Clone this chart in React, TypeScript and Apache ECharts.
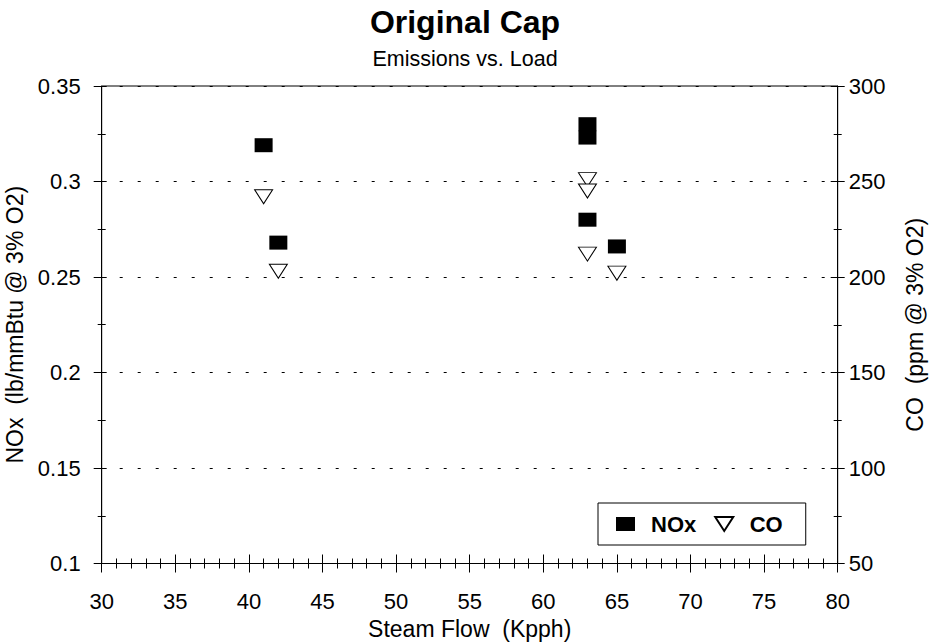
import React, { useEffect, useRef } from "react";
import * as echarts from "echarts";

const steamFlowNOx = [41, 42, 63, 63, 63, 65];
const noxValues = [0.319, 0.268, 0.33, 0.323, 0.28, 0.266];
const steamFlowCO = [41, 42, 63, 63, 63, 65];
const coValues = [242, 203, 251, 245, 212, 202];

const FONT = "'Liberation Sans', Arial, Helvetica, sans-serif";
const DOWN_TRIANGLE = "path://M0,0L18,0L9,14Z";

export default function App() {
  const ref = useRef<HTMLDivElement>(null);
  useEffect(() => {
    if (!ref.current) return;
    const chart = echarts.init(ref.current, null, { renderer: "svg" });
    const axisLine = { show: true, lineStyle: { color: "#000", width: 1 } };
    const labelStyle = { color: "#000", fontSize: 22, fontFamily: FONT };
    const nameStyle = { color: "#000", fontSize: 23, fontFamily: FONT };
    const option: any = {
      animation: false,
      backgroundColor: "#fff",
      title: [
        {
          text: "Original Cap",
          left: "center",
          top: 1,
          textStyle: { color: "#000", fontSize: 32, fontWeight: "bold", fontFamily: FONT },
        },
        {
          text: "Emissions vs. Load",
          left: "center",
          top: 43,
          textStyle: { color: "#000", fontSize: 21.5, fontWeight: "normal", fontFamily: FONT },
        },
      ],
      grid: {
        left: 101.7,
        right: 92.3,
        top: 86,
        bottom: 80.5,
        containLabel: false,
        outerBoundsMode: "none",
        show: true,
        borderColor: "#000",
        borderWidth: 1,
        backgroundColor: "transparent",
      },
      legend: {
        left: 598,
        top: 503,
        orient: "horizontal",
        data: [
          { name: "NOx", icon: "rect" },
          { name: "CO", icon: DOWN_TRIANGLE },
        ],
        itemWidth: 19,
        itemHeight: 14,
        itemGap: 18,
        padding: [10, 23, 10, 18],
        borderColor: "#000",
        borderWidth: 1,
        textStyle: { color: "#000", fontSize: 22, fontWeight: "bold", fontFamily: FONT, padding: [0, 0, 0, 11] },
      },
      xAxis: [
        {
          type: "value",
          position: "bottom",
          min: 30,
          max: 80,
          interval: 5,
          name: "Steam Flow  (Kpph)",
          nameLocation: "middle",
          nameGap: 46,
          nameTextStyle: nameStyle,
          axisLine,
          axisTick: { show: true, length: 9, lineStyle: { color: "#000" } },
          minorTick: { show: true, splitNumber: 5, length: 5, lineStyle: { color: "#000" } },
          axisLabel: { ...labelStyle, margin: 27 },
          splitLine: { show: false },
        },
        {
          type: "value",
          position: "bottom",
          min: 30,
          max: 80,
          interval: 5,
          axisLine: { show: false },
          axisTick: { show: true, inside: true, length: 9, lineStyle: { color: "#000" } },
          minorTick: { show: true, splitNumber: 5, length: 5, lineStyle: { color: "#000" } },
          axisLabel: { show: false },
          splitLine: { show: false },
        },
      ],
      yAxis: [
        {
          type: "value",
          position: "left",
          min: 0.1,
          max: 0.35,
          interval: 0.05,
          name: "NOx  (lb/mmBtu @ 3% O2)",
          nameLocation: "middle",
          nameGap: 65,
          nameTextStyle: nameStyle,
          axisLine,
          axisTick: { show: true, length: 8, lineStyle: { color: "#000" } },
          minorTick: { show: true, splitNumber: 2, length: 4, lineStyle: { color: "#000" } },
          axisLabel: { ...labelStyle, margin: 21 },
          splitLine: { show: true, lineStyle: { color: "#000", width: 1, type: [3, 15] } },
        },
        {
          type: "value",
          position: "left",
          min: 0.1,
          max: 0.35,
          interval: 0.05,
          axisLine: { show: false },
          axisTick: { show: true, inside: true, length: 5, lineStyle: { color: "#000" } },
          minorTick: { show: true, splitNumber: 2, length: 4, lineStyle: { color: "#000" } },
          axisLabel: { show: false },
          splitLine: { show: false },
        },
        {
          type: "value",
          position: "right",
          min: 50,
          max: 300,
          interval: 50,
          name: "CO  (ppm @ 3% O2)",
          nameLocation: "middle",
          nameGap: 66,
          nameTextStyle: nameStyle,
          axisLine,
          axisTick: { show: true, length: 7, lineStyle: { color: "#000" } },
          minorTick: { show: true, splitNumber: 2, length: 4, lineStyle: { color: "#000" } },
          axisLabel: { ...labelStyle, margin: 11 },
          splitLine: { show: false },
        },
        {
          type: "value",
          position: "right",
          min: 50,
          max: 300,
          interval: 50,
          axisLine: { show: false },
          axisTick: { show: true, inside: true, length: 7, lineStyle: { color: "#000" } },
          minorTick: { show: true, splitNumber: 2, length: 4, lineStyle: { color: "#000" } },
          axisLabel: { show: false },
          splitLine: { show: false },
        },
      ],
      series: [
        {
          name: "NOx",
          type: "scatter",
          xAxisIndex: 0,
          yAxisIndex: 0,
          symbol: "rect",
          symbolSize: [18, 14],
          itemStyle: { color: "#000", opacity: 1 },
          data: steamFlowNOx.map((x, i) => [x, noxValues[i]]),
          z: 3,
        },
        {
          name: "CO",
          type: "scatter",
          xAxisIndex: 0,
          yAxisIndex: 2,
          symbol: DOWN_TRIANGLE,
          symbolSize: [18, 14],
          itemStyle: { color: "#fff", borderColor: "#000", borderWidth: 1, opacity: 1 },
          data: steamFlowCO.map((x, i) => [x, coValues[i]]),
          z: 4,
        },
      ],
    };
    chart.setOption(option);
    return () => chart.dispose();
  }, []);
  return (
    <div
      ref={ref}
      style={{ position: "fixed", left: 0, top: 0, width: 930, height: 644, background: "#fff" }}
    />
  );
}
